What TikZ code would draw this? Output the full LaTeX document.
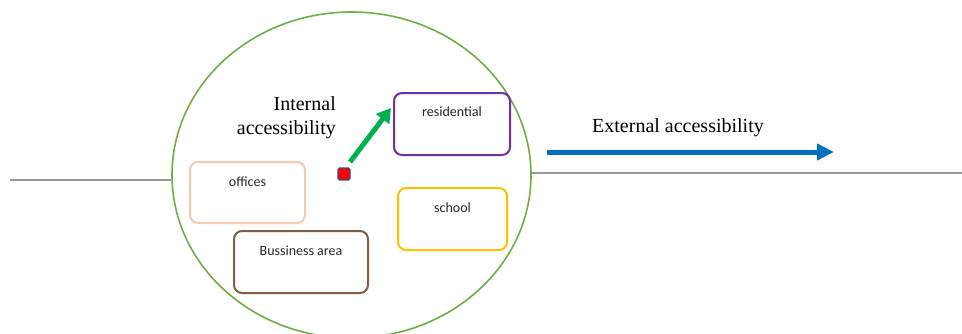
\documentclass[tikz,border=0pt]{standalone}
\usepackage{fontspec}
\setmainfont{Liberation Serif}
\newfontfamily\boxfont{Carlito}
\usetikzlibrary{shapes.geometric,arrows.meta,calc}
\definecolor{ellgreen}{HTML}{70AD47}
\definecolor{arrgreen}{HTML}{00B050}
\definecolor{arrblue}{HTML}{0070C0}
\definecolor{peach}{HTML}{F8CBAD}
\definecolor{brownbox}{HTML}{7F6047}
\definecolor{purplebox}{HTML}{7030A0}
\definecolor{goldbox}{HTML}{FFC000}
\definecolor{sqborder}{HTML}{2F528F}
\definecolor{txtgray}{HTML}{262626}
\tikzset{
  areabox/.style={draw, line width=2pt, rounded corners=8pt, inner sep=0pt, fill=white},
  boxlabel/.style={font=\boxfont\fontsize{14}{16}\selectfont, text=txtgray, anchor=north, inner sep=0pt},
  bigtext/.style={font=\fontsize{20}{24}\selectfont, text=black, inner sep=0pt},
  baseline/.style={draw=gray!80, line width=1.2pt},
}
\begin{document}
\begin{tikzpicture}[x=1pt,y=-1pt]
\useasboundingbox (0,0) rectangle (962,333);
% circle
\node[ellipse, draw=ellgreen, line width=1.6pt, minimum width=359pt, minimum height=326pt, inner sep=0pt] (ell) at (351.5,175) {};
% horizontal lines
\coordinate (lend) at (10,180);
\coordinate (rend) at (962,173);
\draw[baseline] (lend) -- (lend -| ell.west);
\draw[baseline] (ell.east |- rend) -- (rend);
% boxes
\node[areabox, draw=peach, minimum width=115pt, minimum height=61pt] (off) at (247.5,192.5) {};
\node[boxlabel] (offl) at ([yshift=-16pt]off.north) {offices};
\node[areabox, draw=brownbox, minimum width=134pt, minimum height=62pt] (bus) at (301,262) {};
\node[boxlabel] (busl) at ([yshift=-16pt]bus.north) {Bussiness area};
\node[areabox, draw=purplebox, minimum width=116pt, minimum height=62pt] (res) at (452,124) {};
\node[boxlabel] (resl) at ([yshift=-15pt]res.north) {residential};
\node[areabox, draw=goldbox, minimum width=109pt, minimum height=62pt] (sch) at (452.5,219) {};
\node[boxlabel] (schl) at ([yshift=-16pt]sch.north) {school};
% red square
\node[draw=sqborder, fill=red, line width=1.2pt, rounded corners=1.5pt, minimum size=12pt, inner sep=0pt] (sq) at (344,174) {};
% green arrow
\coordinate (gs) at ([shift={(6,-12)}]sq.center);
\coordinate (ge) at ([shift={(-2,-16)}]res.west);
\draw[arrgreen, line width=5pt, -{Triangle[length=14pt,width=16pt]}] (gs) -- (ge);
% texts
\node[bigtext, align=right, anchor=east] (intl) at (336,118) {Internal\\accessibility};
\node[bigtext] (extl) at (678,128) {External accessibility};
% blue arrow
\coordinate (bs) at (547,152);
\coordinate (be) at (834,152);
\draw[arrblue, line width=5pt, -{Triangle[length=17pt,width=16pt]}] (bs) -- (be);
\end{tikzpicture}
\end{document}
